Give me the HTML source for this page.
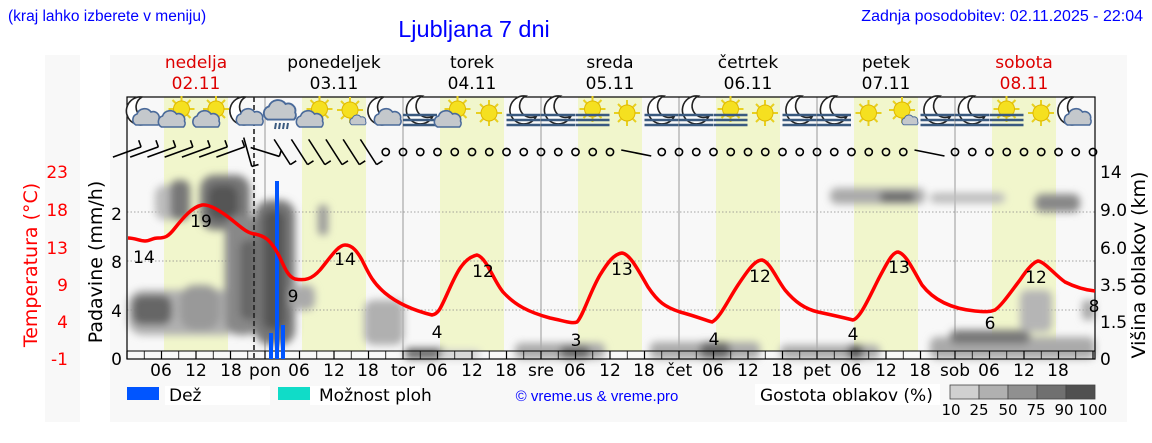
<!DOCTYPE html>
<html><head><meta charset="utf-8"><style>
html,body{margin:0;padding:0;background:#fff;width:1152px;height:443px;overflow:hidden}
svg{display:block}
.t{font-family:"DejaVu Sans","Liberation Sans",sans-serif;font-size:17px;fill:#000}
.h{font-family:"Liberation Sans",sans-serif;fill:#0000ff}
</style></head><body>
<svg id="s" width="1152" height="443" viewBox="0 0 1152 443" xmlns="http://www.w3.org/2000/svg">
<defs>
<filter id="bl" x="-30%" y="-30%" width="160%" height="160%"><feGaussianBlur stdDeviation="4"/></filter>
<g id="sun"><g stroke="#e8d020" stroke-width="2"><line x1="-13" y1="0" x2="13" y2="0"/><line x1="0" y1="-13" x2="0" y2="13"/><line x1="-9" y1="-9" x2="9" y2="9"/><line x1="-9" y1="9" x2="9" y2="-9"/></g><circle r="8" fill="#f5e020" stroke="#e0b800" stroke-width="1"/></g>
<g id="moon"><path d="M2,-14 A14,14 0 1 0 13,6 A11,11 0 1 1 2,-14Z" fill="#fff" stroke="#222" stroke-width="1.6"/></g>
<g id="cloud"><path d="M-12,8 a6,6 0 0 1 1,-11 a8,8 0 0 1 14,-2 a6,6 0 0 1 8,7 a5,5 0 0 1 -1,6Z" fill="#c4c8cc" stroke="#4a6a9a" stroke-width="1.6"/></g>
<g id="fog"><g stroke="#3a5a80" stroke-width="2.5"><line x1="-17" y1="2" x2="17" y2="2"/><line x1="-17" y1="7" x2="17" y2="7"/><line x1="-17" y1="12" x2="17" y2="12"/></g></g>
</defs>
<rect x="45" y="55" width="35" height="367" fill="#f8f8f8"/>
<rect x="110" y="55" width="1017" height="367" fill="#f8f8f8"/>
<g id="bg"></g>
<g id="clouds" filter="url(#bl)">
<rect x="128" y="290" width="110" height="45" rx="15" fill="#b0b0b0"/>
<rect x="132" y="295" width="40" height="30" rx="10" fill="#666"/>
<rect x="180" y="285" width="40" height="45" rx="15" fill="#999"/>
<rect x="155" y="185" width="25" height="35" rx="10" fill="#bbb"/>
<rect x="170" y="180" width="20" height="40" rx="8" fill="#777"/>
<rect x="200" y="175" width="50" height="55" rx="14" fill="#777"/>
<rect x="208" y="185" width="30" height="35" rx="10" fill="#555"/>
<rect x="225" y="215" width="35" height="120" rx="14" fill="#888"/>
<rect x="240" y="240" width="20" height="80" rx="8" fill="#666"/>
<rect x="255" y="200" width="40" height="145" rx="15" fill="#777"/>
<rect x="263" y="210" width="22" height="120" rx="10" fill="#555"/>
<rect x="290" y="285" width="25" height="25" rx="8" fill="#aaa"/>
<rect x="318" y="205" width="10" height="30" rx="4" fill="#999"/>
<rect x="364" y="300" width="40" height="45" rx="10" fill="#b0b0b0"/>
<rect x="405" y="348" width="40" height="11" rx="4" fill="#666"/>
<rect x="440" y="350" width="40" height="9" rx="4" fill="#ccc"/>
<rect x="515" y="343" width="90" height="16" rx="6" fill="#aaa"/>
<rect x="560" y="346" width="30" height="13" rx="5" fill="#666"/>
<rect x="650" y="342" width="110" height="17" rx="6" fill="#aaa"/>
<rect x="700" y="342" width="30" height="17" rx="6" fill="#666"/>
<rect x="780" y="345" width="100" height="14" rx="6" fill="#aaa"/>
<rect x="848" y="345" width="15" height="14" rx="4" fill="#555"/>
<rect x="830" y="188" width="95" height="16" rx="7" fill="#aaa"/>
<rect x="880" y="192" width="35" height="10" rx="4" fill="#666"/>
<rect x="930" y="193" width="75" height="10" rx="5" fill="#bbb"/>
<rect x="1035" y="194" width="45" height="18" rx="7" fill="#888"/>
<rect x="930" y="337" width="165" height="22" rx="7" fill="#aaa"/>
<rect x="950" y="330" width="80" height="14" rx="6" fill="#777"/>
<rect x="1020" y="290" width="32" height="42" rx="7" fill="#b5b5b5"/>
<rect x="1082" y="300" width="13" height="20" rx="4" fill="#aaa"/>
</g>
<g id="fg"></g>
<rect x="269" y="333" width="4" height="26" fill="#0055ff"/>
<rect x="275" y="181" width="4" height="178" fill="#0055ff"/>
<rect x="281" y="325" width="4" height="34" fill="#0055ff"/>
<path fill="none" stroke="#ff0000" stroke-width="3.5" stroke-linejoin="round" d="M128,238 C135,238 140,241 145,241 C150,241 152,238 158,238 C165,238 168,237 175,228 C183,218 192,207 202,205 C210,204 222,212 232,220 C242,228 247,233 255,234 C265,236 270,240 277,252 C283,262 286,276 295,279 C305,281 312,279 320,270 C330,258 338,245 345,245 C352,245 357,251 362,260 C368,272 372,282 385,293 C397,303 412,310 432,315 C438,314 440,310 448,292 C456,274 463,258 477,255 C487,258 493,280 503,292 C515,305 528,312 550,318 C565,321 572,324 577,322 C583,316 590,292 600,275 C608,262 614,254 622,253 C630,254 638,270 648,287 C658,302 665,307 680,312 C695,316 705,320 712,322 C720,318 728,300 738,285 C748,270 755,260 762,260 C770,262 776,278 785,290 C795,302 805,309 818,312 C832,315 845,318 853,320 C860,318 868,300 878,280 C886,265 892,252 898,252 C906,254 912,268 922,285 C935,302 955,309 975,311 C985,312 990,312 995,310 C1002,305 1010,293 1020,280 C1028,268 1034,262 1038,261 C1045,262 1055,275 1065,282 C1075,287 1085,290 1095,291"/>
<g class="t" text-anchor="middle">
<text x="144" y="263">14</text><text x="201" y="227">19</text><text x="293" y="302">9</text><text x="345" y="265">14</text>
<text x="437" y="338">4</text><text x="483" y="277">12</text><text x="576" y="346">3</text><text x="622" y="275">13</text>
<text x="714" y="345">4</text><text x="760" y="282">12</text><text x="853" y="340">4</text><text x="899" y="273">13</text>
<text x="990" y="329">6</text><text x="1036" y="283">12</text><text x="1094" y="312">8</text>
</g>
<g class="t" text-anchor="end">
<text x="122" y="220">2</text><text x="122" y="268">8</text><text x="122" y="317">4</text><text x="122" y="365">0</text>
</g>
<g class="t" text-anchor="start">
<text x="1100" y="178">14</text><text x="1100" y="216">9.0</text><text x="1100" y="254">6.0</text><text x="1100" y="291">3.5</text><text x="1100" y="328">1.5</text><text x="1100" y="365">0</text>
</g>
<g class="t" text-anchor="end" style="fill:#ff0000">
<text x="68" y="178">23</text><text x="68" y="216">18</text><text x="68" y="254">13</text><text x="68" y="291">9</text><text x="68" y="328">4</text><text x="68" y="365">-1</text>
</g>
<text class="t" style="fill:#ff0000;font-size:19px" transform="translate(37,265) rotate(-90)" text-anchor="middle">Temperatura (°C)</text>
<text class="t" style="font-size:19px" transform="translate(102,262) rotate(-90)" text-anchor="middle">Padavine (mm/h)</text>
<text class="t" style="font-size:19px" transform="translate(1145,265) rotate(-90)" text-anchor="middle">Višina oblakov (km)</text>
<g class="t" text-anchor="middle">
<text x="161" y="376">06</text><text x="196" y="376">12</text><text x="231" y="376">18</text>
<text x="265" y="376">pon</text><text x="299" y="376">06</text><text x="334" y="376">12</text><text x="368" y="376">18</text>
<text x="403" y="376">tor</text><text x="437" y="376">06</text><text x="472" y="376">12</text><text x="506" y="376">18</text>
<text x="541" y="376">sre</text><text x="575" y="376">06</text><text x="610" y="376">12</text><text x="644" y="376">18</text>
<text x="679" y="376">čet</text><text x="713" y="376">06</text><text x="748" y="376">12</text><text x="782" y="376">18</text>
<text x="817" y="376">pet</text><text x="851" y="376">06</text><text x="886" y="376">12</text><text x="920" y="376">18</text>
<text x="955" y="376">sob</text><text x="989" y="376">06</text><text x="1024" y="376">12</text><text x="1058" y="376">18</text>
</g>
<g class="t" text-anchor="middle">
<text x="196" y="68" style="fill:#dd0000">nedelja</text><text x="196" y="89" style="fill:#dd0000">02.11</text>
<text x="334" y="68">ponedeljek</text><text x="334" y="89">03.11</text>
<text x="472" y="68">torek</text><text x="472" y="89">04.11</text>
<text x="610" y="68">sreda</text><text x="610" y="89">05.11</text>
<text x="748" y="68">četrtek</text><text x="748" y="89">06.11</text>
<text x="886" y="68">petek</text><text x="886" y="89">07.11</text>
<text x="1024" y="68" style="fill:#dd0000">sobota</text><text x="1024" y="89" style="fill:#dd0000">08.11</text>
</g>
<text class="h" x="8" y="21" font-size="15.5">(kraj lahko izberete v meniju)</text>
<text class="h" x="474" y="37" font-size="23.5" text-anchor="middle">Ljubljana 7 dni</text>
<text class="h" x="1143" y="21" font-size="16" text-anchor="end">Zadnja posodobitev: 02.11.2025 - 22:04</text>
<rect x="127" y="387" width="32" height="13" fill="#0055ff"/>
<rect x="165" y="386" width="105" height="19" fill="#fff"/>
<text class="t" x="169" y="401">Dež</text>
<rect x="278" y="387" width="32" height="13" fill="#10dcc8"/>
<rect x="310" y="386" width="110" height="19" fill="#fff"/>
<text class="t" x="319" y="401">Možnost ploh</text>
<text class="h" x="597" y="401" font-size="15" text-anchor="middle">© vreme.us &amp; vreme.pro</text>
<rect x="755" y="384" width="185" height="21" fill="#fff"/>
<text class="t" x="760" y="401">Gostota oblakov (%)</text>
<g stroke="#444" stroke-width="0.8">
<rect x="950" y="385" width="29" height="14" fill="#d0d0d0"/><rect x="979" y="385" width="29" height="14" fill="#b0b0b0"/><rect x="1008" y="385" width="29" height="14" fill="#909090"/><rect x="1037" y="385" width="29" height="14" fill="#707070"/><rect x="1066" y="385" width="29" height="14" fill="#505050"/>
</g>
<g class="t" text-anchor="middle" style="font-size:15px">
<text x="951" y="415">10</text><text x="979" y="415">25</text><text x="1008" y="415">50</text><text x="1036" y="415">75</text><text x="1064" y="415">90</text><text x="1093" y="415">100</text>
</g>
</svg>
<script>
(function(){
var NS="http://www.w3.org/2000/svg";
function el(p,n,a){var e=document.createElementNS(NS,n);for(var k in a)e.setAttribute(k,a[k]);p.appendChild(e);return e;}
var bg=document.getElementById('bg'),fg=document.getElementById('fg');
var W=138,X0=127;
for(var d=0;d<7;d++){var D=X0+W*d;el(bg,'rect',{x:D+37,y:97,width:64,height:254,fill:'#f1f6cc'});}
[212,261,310].forEach(function(y){el(bg,'line',{x1:127,x2:1095,y1:y,y2:y,stroke:'#888','stroke-width':0.8,'stroke-dasharray':'1.5,2'});});
for(var d=1;d<7;d++){var D=X0+W*d;el(bg,'line',{x1:D,x2:D,y1:97,y2:351,stroke:'#999','stroke-width':1});}
el(fg,'rect',{x:127,y:97,width:968,height:262,fill:'none',stroke:'#000','stroke-width':1.2});
el(fg,'line',{x1:127,x2:1095,y1:351,y2:351,stroke:'#000','stroke-width':1});
for(var i=0;i<=56;i++){var x=X0+i*W/8;el(fg,'line',{x1:x,x2:x,y1:351,y2:359,stroke:'#000','stroke-width':(i%2==0?1.2:0.8)});}
el(fg,'line',{x1:254,x2:254,y1:97,y2:359,stroke:'#222','stroke-width':1.6,'stroke-dasharray':'5,3'});
var types=[['mc','sc','sc','mc'],['rc','sc','ss','mc'],['mf','sc','s','mf'],['mf','sf','s','mf'],['mf','sf','s','mf'],['mf','s','ss','mf'],['mf','sf','s','mc']];
for(var d=0;d<7;d++)for(var j=0;j<4;j++){
 var cx=X0+W*d+17+34.5*j,cy=113,t=types[d][j],g=el(fg,'g',{transform:'translate('+cx+','+cy+')'});
 function u(id,tr){el(g,'use',{href:'#'+id,transform:tr||''});}
 if(t=='mc'){u('moon','translate(-4,-2)');u('cloud','translate(4,4)');}
 else if(t=='sc'){u('sun','translate(3,-4)');u('cloud','translate(-5,6)');}
 else if(t=='ss'){u('sun','translate(-1,-3)');u('cloud','translate(8,7) scale(0.6)');}
 else if(t=='s'){u('sun','');}
 else if(t=='mf'){u('moon','translate(0,-3)');u('fog','translate(0,0)');}
 else if(t=='sf'){u('sun','translate(0,-4)');u('fog','translate(0,0)');}
 else if(t=='rc'){u('cloud','translate(0,-3) scale(1.2)');for(var r=0;r<4;r++)el(g,'line',{x1:-6+r*4,x2:-7+r*4,y1:10,y2:16,stroke:'#3a5a80','stroke-width':2});}
}
for(var i=0;i<57;i++){var x=X0+i*W/8,y=152;
 if(i<=14){
  var a= i<7? -0.35 : (i==7?1.3:(i==8?0.3:1.0));
  var L=15,dx=Math.cos(a)*L,dy=Math.sin(a)*L;
  el(fg,'line',{x1:x-dx,y1:y-dy,x2:x+dx,y2:y+dy,stroke:'#000','stroke-width':1.6});
  el(fg,'line',{x1:x+dx,y1:y+dy,x2:x+dx+Math.sin(a)*7,y2:y+dy-Math.cos(a)*7,stroke:'#000','stroke-width':1.6});
 } else if(i==29||i==46){
  el(fg,'line',{x1:x-6,y1:y-2,x2:x+24,y2:y+4,stroke:'#000','stroke-width':1.6});
 } else if(i==30||i==47){
 } else {
  el(fg,'circle',{cx:x,cy:y,r:3.6,fill:'none',stroke:'#000','stroke-width':1.6});
 }
}
})();
</script>
</body></html>
